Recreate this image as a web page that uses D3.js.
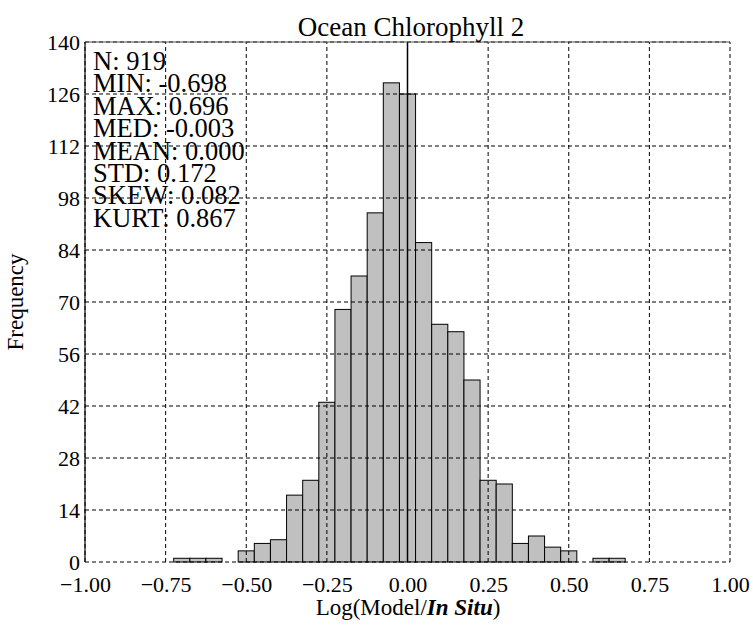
<!DOCTYPE html>
<html>
<head>
<meta charset="utf-8">
<script src="https://cdn.jsdelivr.net/npm/d3@7"></script>
<style>
    body { margin: 0; background: #fff; }
    text { font-family: "Liberation Serif", "Times New Roman", serif; fill: #000; }
</style>
</head>
<body>
<svg></svg>
<script>
// histogram data (bins 0.05 wide, centred on the values)
var binCenters = [-0.70, -0.65, -0.60, -0.55, -0.50, -0.45, -0.40, -0.35, -0.30, -0.25,
    -0.20, -0.15, -0.10, -0.05, 0.00, 0.05, 0.10, 0.15, 0.20,
    0.25, 0.30, 0.35, 0.40, 0.45, 0.50, 0.55, 0.60, 0.65];
var counts = [1, 1, 1, 0, 3, 5, 6, 18, 22, 43,
    68, 77, 94, 129, 126, 86, 64, 62, 49,
    22, 21, 5, 7, 4, 3, 0, 1, 1];
var binWidth = 0.05;

var xTicks = [-1.00, -0.75, -0.50, -0.25, 0.00, 0.25, 0.50, 0.75, 1.00];
var yTicks = [0, 14, 28, 42, 56, 70, 84, 98, 112, 126, 140];

var statLines = ["N: 919", "MIN: -0.698", "MAX: 0.696", "MED: -0.003",
    "MEAN: 0.000", "STD: 0.172", "SKEW: 0.082", "KURT: 0.867"];

var width = 753,
    height = 626;

var svg = d3.select('svg')
    .attr('width', width)
    .attr('height', height);

var margin = { top: 42, right: 23, bottom: 64, left: 85 };
var x = d3.scaleLinear().domain([-1, 1]).range([margin.left, width - margin.right]);
var y = d3.scaleLinear().domain([0, 140]).range([height - margin.bottom, margin.top]);

// bars
svg.append('g')
    .selectAll('rect')
    .data(binCenters)
    .enter()
    .append('rect')
    .attr('x', d => x(d - binWidth / 2))
    .attr('width', d => x(d + binWidth / 2) - x(d - binWidth / 2))
    .attr('y', (d, i) => y(counts[i]))
    .attr('height', (d, i) => y(0) - y(counts[i]))
    .attr('fill', '#c0c0c0')
    .attr('stroke', '#000')
    .attr('stroke-width', 1);

// dashed grid over the bars
var grid = svg.append('g')
    .attr('stroke', '#000')
    .attr('stroke-width', 1)
    .attr('stroke-dasharray', '4,3');

grid.selectAll('line.v')
    .data(xTicks)
    .enter()
    .append('line')
    .attr('class', 'v')
    .attr('x1', d => x(d)).attr('x2', d => x(d))
    .attr('y1', y(0)).attr('y2', y(140));

grid.selectAll('line.h')
    .data(yTicks)
    .enter()
    .append('line')
    .attr('class', 'h')
    .attr('x1', x(-1)).attr('x2', x(1))
    .attr('y1', d => y(d)).attr('y2', d => y(d));

// zero line
svg.append('line')
    .attr('x1', x(0)).attr('x2', x(0))
    .attr('y1', y(0)).attr('y2', y(140))
    .attr('stroke', '#000')
    .attr('stroke-width', 1.5);

// left and top frame lines
svg.append('line')
    .attr('x1', x(-1)).attr('x2', x(-1))
    .attr('y1', y(0)).attr('y2', y(140))
    .attr('stroke', '#000')
    .attr('stroke-width', 1.2);
svg.append('line')
    .attr('x1', x(-1)).attr('x2', x(1))
    .attr('y1', y(140)).attr('y2', y(140))
    .attr('stroke', '#555')
    .attr('stroke-width', 1);

// axes
var xAxis = svg.append('g')
    .attr('transform', `translate(0,${y(0)})`)
    .call(d3.axisBottom(x).tickValues(xTicks).tickFormat(d3.format('.2f')).tickSize(0).tickPadding(14));
xAxis.select('.domain').remove();
xAxis.selectAll('text')
    .attr('font-size', 22)
    .attr('font-family', '"Liberation Serif", serif');

var yAxis = svg.append('g')
    .attr('transform', `translate(${x(-1)},0)`)
    .call(d3.axisLeft(y).tickValues(yTicks).tickSize(0).tickPadding(5));
yAxis.select('.domain').remove();
yAxis.selectAll('text')
    .attr('font-size', 22)
    .attr('font-family', '"Liberation Serif", serif');

// title
svg.append('text')
    .attr('x', 411)
    .attr('y', 36)
    .attr('text-anchor', 'middle')
    .attr('font-size', 27)
    .text('Ocean Chlorophyll 2');

// x label
var xl = svg.append('text')
    .attr('x', 408)
    .attr('y', 615)
    .attr('text-anchor', 'middle')
    .attr('font-size', 23);
xl.append('tspan').text('Log(Model/');
xl.append('tspan').attr('font-weight', 'bold').attr('font-style', 'italic').text('In Situ');
xl.append('tspan').text(')');

// y label
svg.append('text')
    .attr('transform', 'translate(23,302) rotate(-90)')
    .attr('text-anchor', 'middle')
    .attr('font-size', 23)
    .text('Frequency');

// statistics block
svg.append('g')
    .selectAll('text')
    .data(statLines)
    .enter()
    .append('text')
    .attr('x', 93)
    .attr('y', (d, i) => 70 + i * 22.4)
    .attr('font-size', 26.5)
    .text(d => d);
</script>
</body>
</html>
